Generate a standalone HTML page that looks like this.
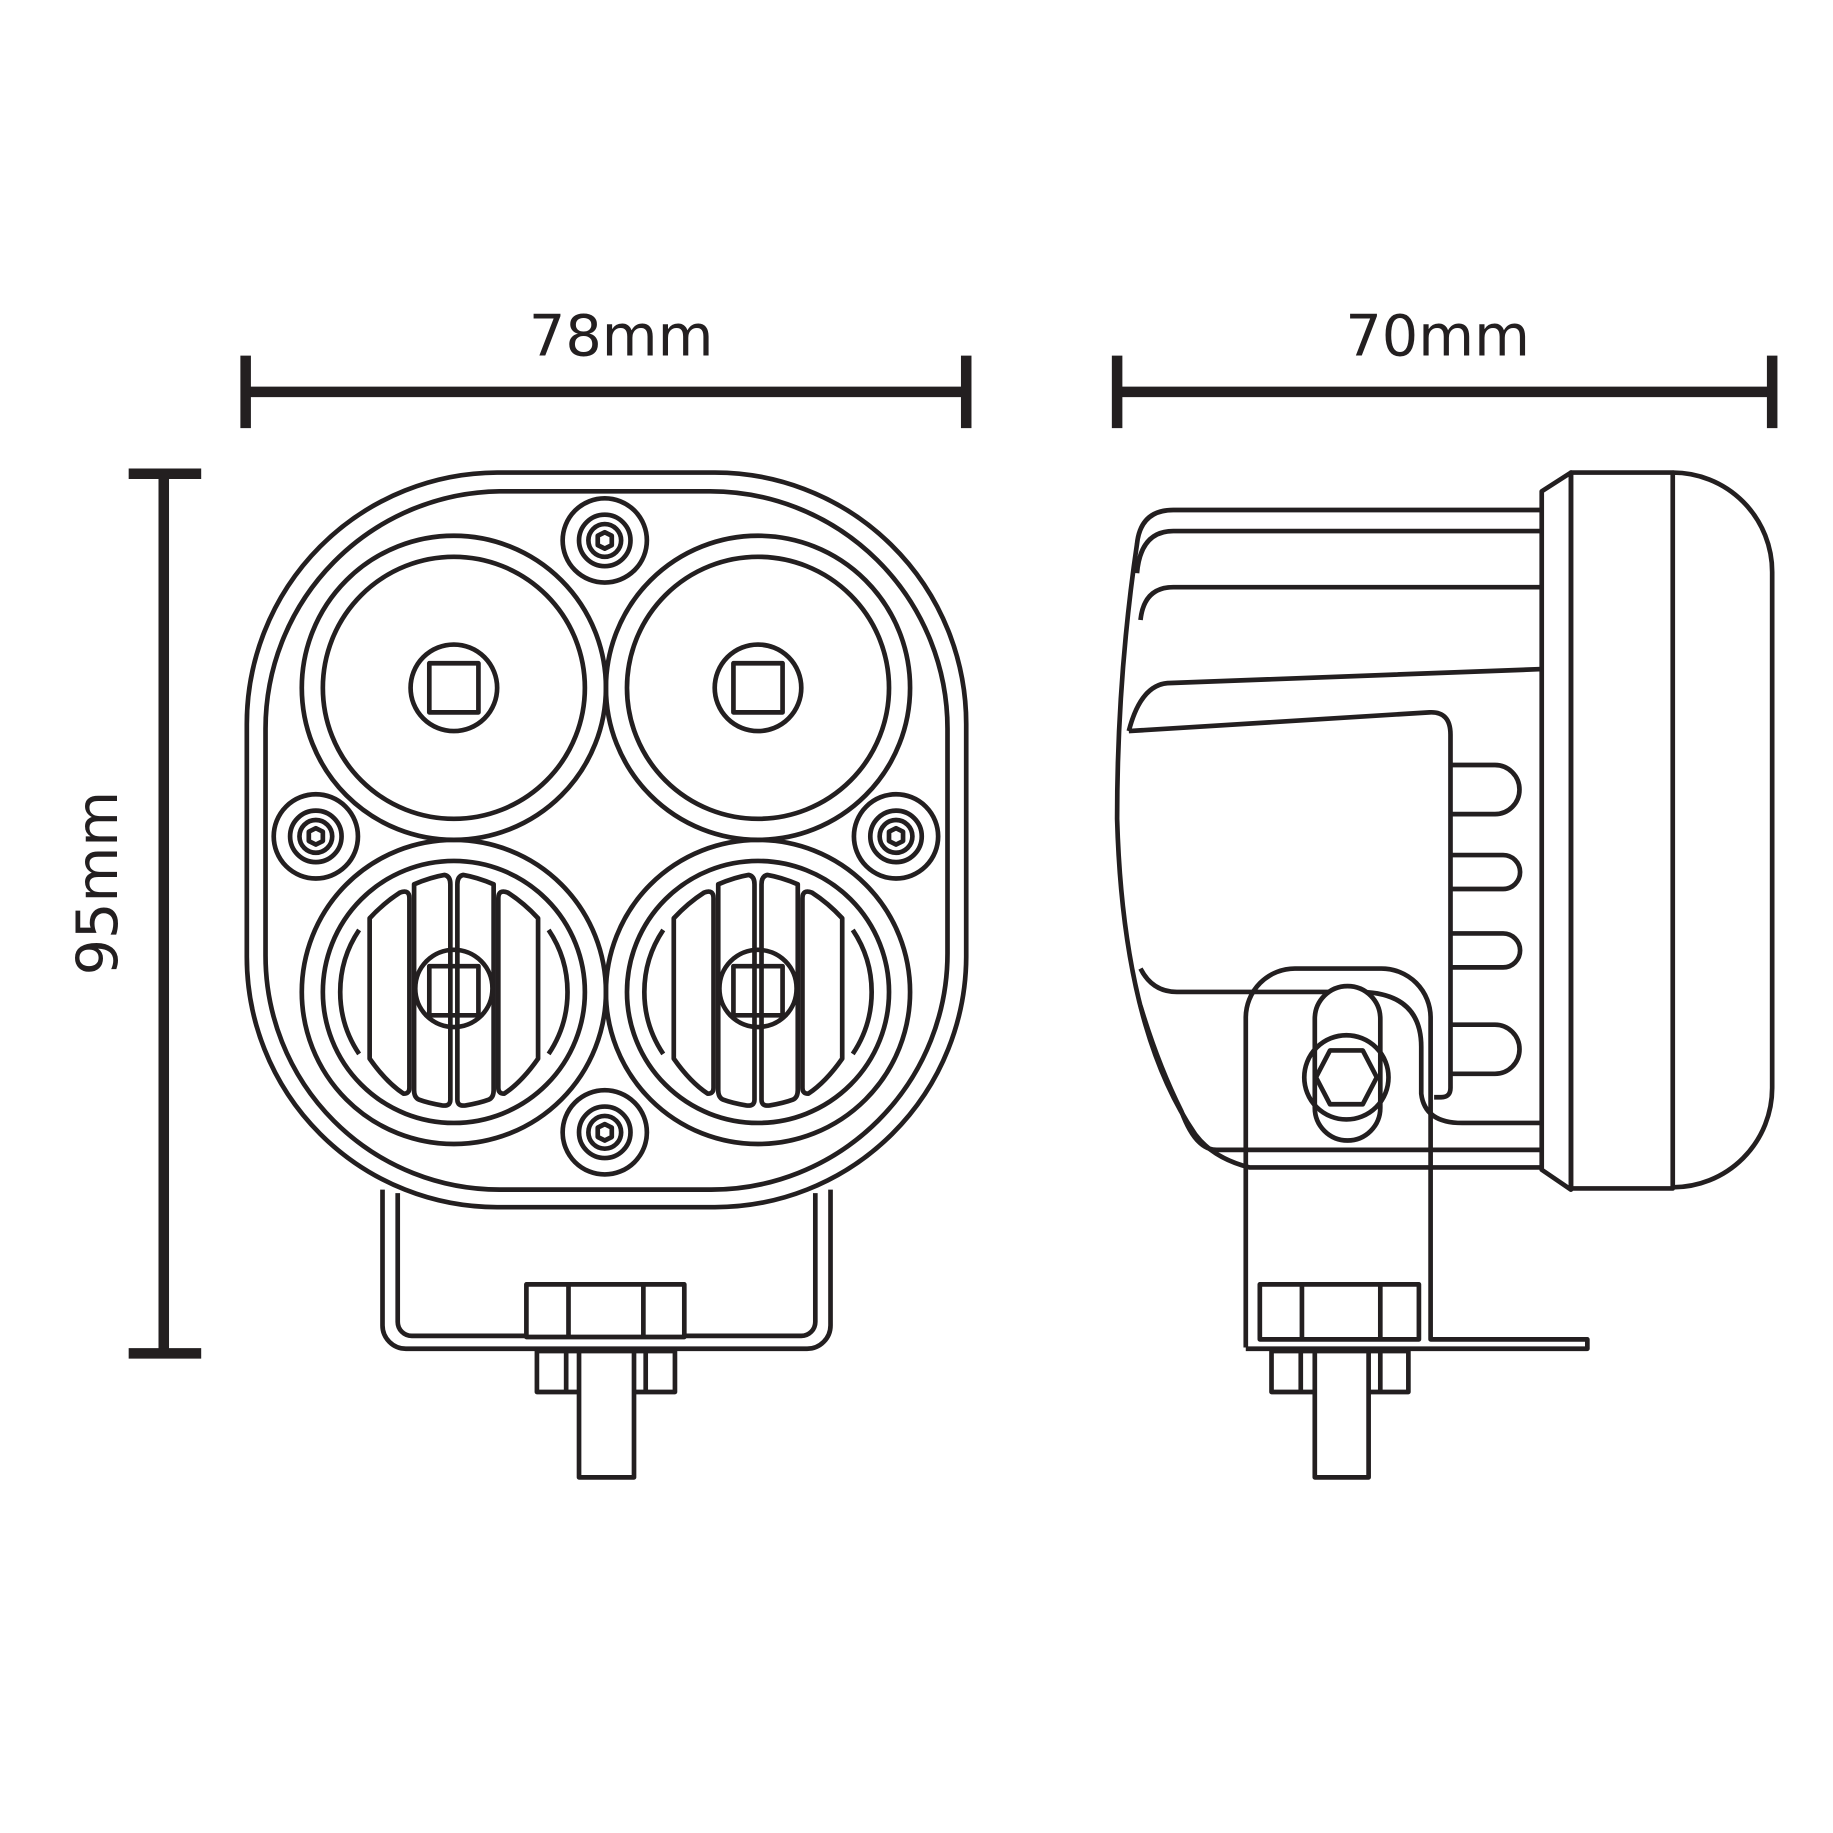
<!DOCTYPE html>
<html><head><meta charset="utf-8"><style>html,body{margin:0;padding:0;background:#fff}svg{display:block}</style></head>
<body>
<svg width="1833" height="1833" viewBox="0 0 1567 1567" xmlns="http://www.w3.org/2000/svg">
<g fill="none" stroke="#231f20" stroke-width="4" stroke-linejoin="round">
<g stroke-width="9">
<line x1="210" y1="335" x2="826" y2="335"/><line x1="210" y1="304" x2="210" y2="366"/><line x1="826" y1="304" x2="826" y2="366"/>
<line x1="955" y1="335" x2="1515" y2="335"/><line x1="955" y1="304" x2="955" y2="366"/><line x1="1515" y1="304" x2="1515" y2="366"/>
<line x1="140" y1="405" x2="140" y2="1157"/><line x1="110" y1="405" x2="172" y2="405"/><line x1="110" y1="1157" x2="172" y2="1157"/>
</g>
<path d="M425 404 H607 A215 215 0 0 1 826 619 V818 A215 215 0 0 1 611 1032 H425 A214 214 0 0 1 211 818 V619 A215 215 0 0 1 425 404 Z"/>
<path d="M427 420 H605 A203 203 0 0 1 810 623 V815 A202 202 0 0 1 608 1017 H427 A200 200 0 0 1 227 817 V623 A203 203 0 0 1 427 420 Z"/>
<circle cx="388" cy="588" r="130"/><circle cx="388" cy="588" r="112"/><circle cx="388" cy="588" r="37"/><rect x="367" y="567" width="42" height="42"/>
<circle cx="648" cy="588" r="130"/><circle cx="648" cy="588" r="112"/><circle cx="648" cy="588" r="37"/><rect x="627" y="567" width="42" height="42"/>
<g id="bl">
<circle cx="388" cy="848" r="130"/><circle cx="388" cy="848" r="112"/>
<path d="M307 795 A95 95 0 0 0 307 901"/><path d="M469 795 A95 95 0 0 1 469 901"/>
<path d="M316 785 V905 Q330 925 345 935 Q350 935 350 930 V768 Q350 760 342 763 Q328 772 316 785 Z"/>
<path d="M460 785 V905 Q446 925 431 935 Q426 935 426 930 V768 Q426 760 434 763 Q448 772 460 785 Z"/>
<path d="M354 756 Q368 750 380 748 Q385 749 385 756 V940 Q385 946 378 945 Q366 943 358 940 Q354 938 354 932 Z"/>
<path d="M422 756 Q408 750 396 748 Q391 749 391 756 V940 Q391 946 398 945 Q410 943 418 940 Q422 938 422 932 Z"/>
<circle cx="388" cy="845" r="33"/><rect x="367" y="826" width="42" height="42"/>
</g>
<use href="#bl" transform="translate(260 0)"/>
<g id="sc"><circle cx="517" cy="462" r="36"/><circle cx="517" cy="462" r="22"/><circle cx="517" cy="462" r="14"/><polygon points="517,455 523,458 523,466 517,469 511,466 511,458"/></g>
<use href="#sc" transform="translate(-247 253)"/><use href="#sc" transform="translate(249 253)"/><use href="#sc" transform="translate(0 506)"/>
<path d="M327 1017 V1133 A20 20 0 0 0 347 1153 H690 A20 20 0 0 0 710 1133 V1017"/>
<path d="M340 1020 V1130 A12 12 0 0 0 352 1142 H685 A12 12 0 0 0 697 1130 V1020"/>
<rect x="450" y="1098" width="135" height="45" fill="#fff"/><line x1="486" y1="1098" x2="486" y2="1143"/><line x1="550" y1="1098" x2="550" y2="1143"/>
<rect x="459" y="1155" width="118" height="35"/><line x1="484" y1="1155" x2="484" y2="1190"/><line x1="552" y1="1155" x2="552" y2="1190"/>
<rect x="495" y="1155" width="47" height="108" fill="#fff"/>
<path d="M1430 404 A85 85 0 0 1 1515 489 V930 A85 85 0 0 1 1430 1015"/>
<rect x="1343" y="404" width="87" height="612"/>
<polygon points="1318,420 1343,404 1343,1017 1318,1000"/>
<path d="M1318 436 H1003 Q975 436 972 465 Q955 580 955 700 Q960 880 1022 970 Q1037 990 1068 998 H1318"/>
<path d="M1318 454 H1003 Q975 454 972 490"/>
<path d="M1318 502 H1003 Q978 502 975 530"/>
<path d="M1318 572 L998 584 Q975 586 965 625"/>
<path d="M965 625 L1222 609 Q1240 608 1240 628 V930 Q1240 938 1232 938 H1226"/>
<path d="M975 828 Q985 848 1006 848 H1165 Q1215 850 1215 895 V935 Q1218 960 1250 960 H1318"/>
<path d="M1318 983 H1040 Q1022 983 1010 950 Q990 910 975 860"/>
<path d="M1240 654 H1278 A21 21 0 0 1 1278 696 H1240"/>
<path d="M1240 731 H1285 A14 14 0 0 1 1285 760 H1240"/>
<path d="M1240 798 H1285 A14 14 0 0 1 1285 827 H1240"/>
<path d="M1240 876 H1278 A21 21 0 0 1 1278 918 H1240"/>
<path d="M1065 1152 V870 A42 42 0 0 1 1107 828 H1181 A42 42 0 0 1 1223 870 V1145 H1357 V1153 H1065"/>
<rect x="1124" y="843" width="56" height="132" rx="28" fill="#fff"/>
<circle cx="1151" cy="921" r="36"/><polygon points="1137,898 1165,898 1177,921 1165,944 1137,944 1125,921"/>
<rect x="1077" y="1098" width="136" height="47" fill="#fff"/><line x1="1113" y1="1098" x2="1113" y2="1145"/><line x1="1180" y1="1098" x2="1180" y2="1145"/>
<rect x="1087" y="1155" width="117" height="35"/><line x1="1112" y1="1155" x2="1112" y2="1190"/><line x1="1180" y1="1155" x2="1180" y2="1190"/>
<rect x="1124" y="1155" width="46" height="108" fill="#fff"/>
</g>
<g fill="#231f20" font-family="'DejaVu Sans','Liberation Sans',sans-serif" font-size="49" text-anchor="middle">
<text x="531" y="304">78mm</text>
<text x="1229" y="304">70mm</text>
<text transform="translate(100 755) rotate(-90)">95mm</text>
</g>
</svg>
</body></html>
